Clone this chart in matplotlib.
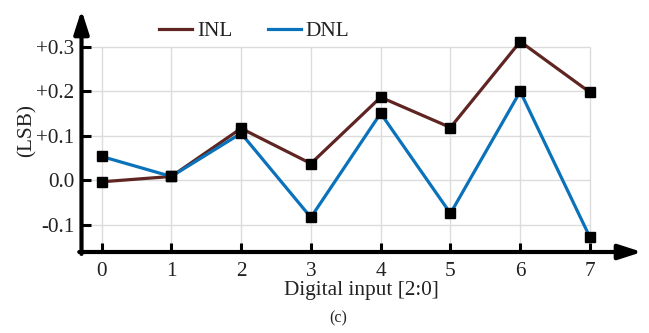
import numpy as np
import matplotlib
matplotlib.use('Agg')
import matplotlib.pyplot as plt

codes = [0, 1, 2, 3, 4, 5, 6, 7]
inl = [-0.003, 0.009, 0.117, 0.038, 0.187, 0.119, 0.312, 0.198]
dnl = [0.054, 0.009, 0.106, -0.083, 0.151, -0.074, 0.200, -0.128]
yticks = [-0.1, 0.0, 0.1, 0.2, 0.3]
ylabels = ['-0.1', '0.0', '+0.1', '+0.2', '+0.3']

plt.rcParams['font.family'] = ['Liberation Serif', 'DejaVu Serif']
txt = '#222222'
inl_col = '#5e2522'
dnl_col = '#0a72ba'
fs = 15.3

fig = plt.figure(figsize=(6.49, 3.33), dpi=100)
W, H = 649, 333
x0, x1, y0, y1 = 81.5, 642, 252, 10
ax = fig.add_axes([x0 / W, 1 - y0 / H, (x1 - x0) / W, (y0 - y1) / H])
ax.set_xlim(-0.287, 7.745)
ax.set_ylim(-0.1607, 0.383)
for s in ax.spines.values():
    s.set_visible(False)

# grid only inside the data area
ax.hlines(yticks, -0.287, codes[-1], color='#dcdcdc', lw=1, zorder=0)
ax.vlines(codes, -0.1607, yticks[-1], color='#dcdcdc', lw=1, zorder=0)

ax.plot(codes, inl, color=inl_col, lw=2.3, label='INL', zorder=3)
ax.plot(codes, dnl, color=dnl_col, lw=2.3, label='DNL', zorder=3)
ax.plot(codes, inl, 's', color='k', ms=6.5, zorder=4)
ax.plot(codes, dnl, 's', color='k', ms=6.5, zorder=4)

# axis arrows
arr = dict(arrowstyle='-|>,head_length=14,head_width=4.5', mutation_scale=1,
           lw=3, color='k', shrinkA=0, shrinkB=0)
ax.annotate('', xy=(1, 0), xytext=(-0.004, 0), xycoords='axes fraction', arrowprops=arr)
ax.annotate('', xy=(0, 1), xytext=(0, -0.008), xycoords='axes fraction', arrowprops=arr)

ax.set_xticks(codes)
ax.set_yticks(yticks)
ax.set_yticklabels(ylabels)
ax.tick_params(direction='in', length=6.5, width=2.2, color='k',
               labelsize=fs, labelcolor=txt)
ax.tick_params(axis='x', pad=7)
ax.tick_params(axis='y', pad=5)

ax.set_xlabel('Digital input [2:0]', fontsize=fs, color=txt, labelpad=0.5)
ax.set_ylabel('(LSB)', fontsize=fs, color=txt, labelpad=0)

fig.legend(loc='center left', bbox_to_anchor=(159 / W, 1 - 31 / H), ncol=2, frameon=False,
           fontsize=fs, borderpad=0, borderaxespad=0, handlelength=1.55,
           columnspacing=1.65, handletextpad=0.25, labelcolor=txt)

fig.text(338 / W, 1 - 318 / H, '(c)', fontsize=11.5, color=txt, ha='center', va='center')

fig.savefig('out.png', dpi=100)
